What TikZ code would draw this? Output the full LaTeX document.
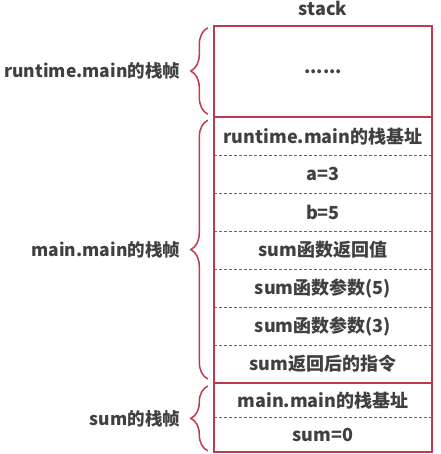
\documentclass[tikz,border=0pt]{standalone}
\usepackage{fontspec}
\setmainfont{Noto Sans CJK SC}
\usetikzlibrary{positioning,decorations.pathreplacing}
\definecolor{framered}{RGB}{192,57,79}
\definecolor{txtgray}{RGB}{64,64,64}
\tikzset{slot/.style={minimum width=218pt, minimum height=37.57pt, inner sep=0pt, text=txtgray, font=\fontsize{18}{21}\selectfont\bfseries}}
\tikzstyle{lbl}=[anchor=east, inner sep=0pt, text=txtgray, font=\fontsize{17.5}{21}\selectfont\bfseries]
\tikzstyle{brc}=[draw=framered, line width=1.5pt, decorate, decoration={brace, amplitude=17pt}]

\begin{document}
\begin{tikzpicture}[x=1pt, y=-1pt, node distance=0pt]
\useasboundingbox (0,0) rectangle (440,454);
\node[slot] (T) at (323,8) {stack};
\node[slot, minimum height=91pt] (R0) at (323,71.5) {......};
\node[slot][below=of R0] (M1) {runtime.main的栈基址};
\node[slot][below=of M1] (M2) {a=3};
\node[slot][below=of M2] (M3) {b=5};
\node[slot][below=of M3] (M4) {sum函数返回值};
\node[slot][below=of M4] (M5) {sum函数参数(5)};
\node[slot][below=of M5] (M6) {sum函数参数(3)};
\node[slot][below=of M6] (M7) {sum返回后的指令};
\node[slot, minimum height=34pt][below=of M7] (S1) {main.main的栈基址};
\node[slot, minimum height=34pt][below=of S1] (S2) {sum=0};
\foreach \n in {M1,M2,M3,M4,M5,M6,S1}
  \draw[framered, line width=0.8pt, dash pattern=on 3pt off 2pt] (\n.south west) -- (\n.south east);
\draw[framered, line width=2pt] (R0.north west) rectangle (S2.south east)
  (R0.south west) -- (R0.south east)
  (M7.south west) -- (M7.south east);
\draw[brc] ([xshift=-6pt, yshift=3pt]R0.south west) -- ([xshift=-6pt, yshift=-2pt]R0.north west)
  node[lbl, midway, xshift=-27pt] (LR) {runtime.main的栈帧};
\draw[brc] ([xshift=-6pt, yshift=4pt]M7.south west) -- ([xshift=-6pt, yshift=-3pt]M1.north west)
  node[lbl, midway, xshift=-27pt] (LM) {main.main的栈帧};
\draw[brc] ([xshift=-6pt, yshift=1pt]S2.south west) -- ([xshift=-6pt, yshift=-3pt]S1.north west)
  node[lbl, midway, xshift=-27pt] (LS) {sum的栈帧};
\end{tikzpicture}
\end{document}
